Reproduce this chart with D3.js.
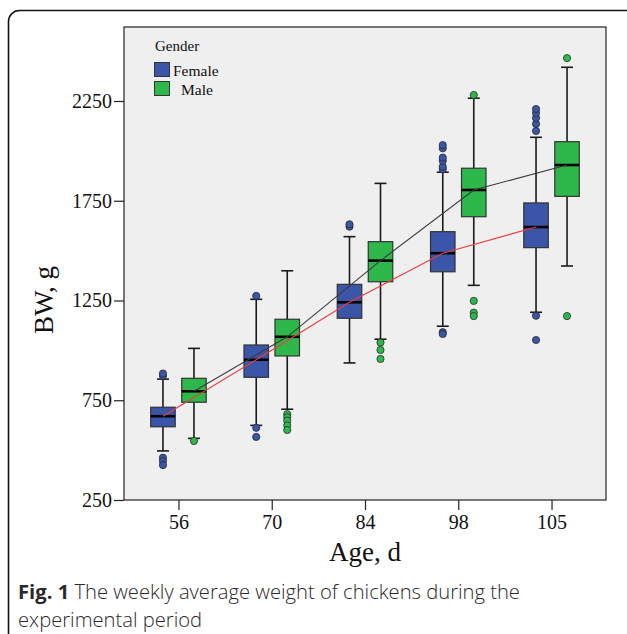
<!DOCTYPE html>
<html><head><meta charset="utf-8">
<script src="https://cdn.jsdelivr.net/npm/d3@7"></script>
<style>body{margin:0;background:#fff}svg{display:block}</style>
</head><body>
<script>
// ---- data ----
const ages = ["56", "70", "84", "98", "105"];
const genders = ["Female", "Male"];
const yTicks = [250, 750, 1250, 1750, 2250];
// [lower whisker, Q1, median, Q3, upper whisker]
const femaleBoxes = [
  [496, 617, 670, 715, 856],
  [624, 865, 953, 1027, 1256],
  [937, 1161, 1241, 1331, 1570],
  [1121, 1394, 1487, 1595, 1893],
  [1191, 1515, 1618, 1739, 2068]
];
const maleBoxes = [
  [559, 740, 795, 860, 1010],
  [705, 972, 1068, 1156, 1399],
  [1056, 1344, 1450, 1545, 1837],
  [1326, 1670, 1804, 1913, 2264],
  [1423, 1772, 1929, 2046, 2419]
];
const femaleOutliers = [
  [872, 884, 462, 445, 425],
  [1273, 612, 566],
  [1620, 1632],
  [1908, 1921, 1950, 1966, 2013, 2029, 1091, 1082],
  [2100, 2135, 2165, 2190, 2210, 1174, 1052]
];
const maleOutliers = [
  [546],
  [680, 665, 648, 624, 601],
  [1039, 1002, 957],
  [2280, 1248, 1189, 1172],
  [2465, 1172]
];
const colors = { Female: "#3b55a8", Male: "#2eb84b" };
const lineColors = { Female: "#f23a3a", Male: "#3a3a3a" };

// ---- layout ----
const W = 627, H = 634;
const plot = { left: 124, right: 606, top: 27, bottom: 500 };
const serif = "Liberation Serif, Times New Roman, serif";

const svg = d3.select("body").append("svg").attr("width", W).attr("height", H);

// outer frame
svg.append("rect").attr("x", 8.5).attr("y", 10.5).attr("width", 700).attr("height", 700)
  .attr("rx", 11).attr("fill", "none").attr("stroke", "#111").attr("stroke-width", 1.6);

const x = d3.scalePoint().domain(ages).range([plot.left, plot.right]).padding(0.584);
const y = d3.scaleLinear().domain([250, 2250]).range([500, 101]);
const off = { Female: -15.5, Male: 15.5 };
const bw = 24.5, capW = 12;

// plot background
svg.append("rect").attr("x", plot.left).attr("y", plot.top)
  .attr("width", plot.right - plot.left).attr("height", plot.bottom - plot.top)
  .attr("fill", "#efefef").attr("stroke", "#222").attr("stroke-width", 1.2);

// axes
const yAxis = d3.axisLeft(y).tickValues(yTicks).tickFormat(d3.format("d")).tickSize(10).tickPadding(2);
const gy = svg.append("g").attr("transform", `translate(${plot.left},0)`).call(yAxis);
gy.select(".domain").remove();
gy.selectAll("text").attr("font-family", serif).attr("font-size", 20).attr("fill", "#111");
gy.selectAll("line").attr("stroke", "#222").attr("stroke-width", 1.2);

const xAxis = d3.axisBottom(x).tickSize(10).tickPadding(5);
const gx = svg.append("g").attr("transform", `translate(0,${plot.bottom})`).call(xAxis);
gx.select(".domain").remove();
gx.selectAll("text").attr("font-family", serif).attr("font-size", 20).attr("fill", "#111");
gx.selectAll("line").attr("stroke", "#222").attr("stroke-width", 1.2);

// axis titles
svg.append("text").attr("x", 365).attr("y", 561).attr("text-anchor", "middle")
  .attr("font-family", serif).attr("font-size", 27).attr("fill", "#111").text("Age, d");
svg.append("text").attr("transform", "translate(53,300) rotate(-90)").attr("text-anchor", "middle")
  .attr("font-family", serif).attr("font-size", 27).attr("fill", "#111").text("BW, g");

const series = { Female: femaleBoxes, Male: maleBoxes };
const outl = { Female: femaleOutliers, Male: maleOutliers };
const line = d3.line().x(d => d[0]).y(d => d[1]);

// boxes
genders.forEach(g => {
  const grp = svg.append("g");
  ages.forEach((a, i) => {
    const [lo, q1, med, q3, hi] = series[g][i];
    const cx = x(a) + off[g];
    grp.append("line").attr("x1", cx).attr("x2", cx).attr("y1", y(hi)).attr("y2", y(q3))
      .attr("stroke", "#1a1a1a").attr("stroke-width", 1.6);
    grp.append("line").attr("x1", cx).attr("x2", cx).attr("y1", y(q1)).attr("y2", y(lo))
      .attr("stroke", "#1a1a1a").attr("stroke-width", 1.6);
    [lo, hi].forEach(v => grp.append("line").attr("x1", cx - capW / 2).attr("x2", cx + capW / 2)
      .attr("y1", y(v)).attr("y2", y(v)).attr("stroke", "#1a1a1a").attr("stroke-width", 1.6));
    grp.append("rect").attr("x", cx - bw / 2).attr("y", y(q3)).attr("width", bw)
      .attr("height", y(q1) - y(q3)).attr("fill", colors[g]).attr("stroke", "#333")
      .attr("stroke-width", 1.2);
    grp.append("line").attr("x1", cx - bw / 2).attr("x2", cx + bw / 2)
      .attr("y1", y(med)).attr("y2", y(med)).attr("stroke", "#000").attr("stroke-width", 2.6);
  });
});
// trend lines through medians
genders.forEach(g => {
  const pts = ages.map((a, i) => [x(a) + off[g], y(series[g][i][2])]);
  svg.append("path").attr("d", line(pts)).attr("fill", "none")
    .attr("stroke", lineColors[g]).attr("stroke-width", 1.1);
});
// outliers
genders.forEach(g => {
  ages.forEach((a, i) => {
    const cx = x(a) + off[g];
    svg.append("g").selectAll("circle").data(outl[g][i]).join("circle")
      .attr("cx", cx).attr("cy", d => y(d)).attr("r", 3.6)
      .attr("fill", colors[g]).attr("stroke", "#2a2a2a").attr("stroke-width", 0.8);
  });
});

// legend
const lg = svg.append("g").attr("font-family", serif).attr("fill", "#111");
lg.append("text").attr("x", 155).attr("y", 51).attr("font-size", 15).text("Gender");
genders.forEach((g, i) => {
  lg.append("rect").attr("x", 154.5).attr("y", 62.5 + i * 19).attr("width", 15).attr("height", 14)
    .attr("fill", colors[g]).attr("stroke", "#333").attr("stroke-width", 1);
  lg.append("text").attr("x", g === "Male" ? 181 : 173).attr("y", 75.5 + i * 19)
    .attr("font-size", 15.5).text(g);
});

// caption
const cap = svg.append("text").attr("x", 18).attr("y", 599)
  .attr("font-family", "Open Sans, sans-serif").attr("font-size", 20.2).attr("fill", "#2a2a2a")
  .attr("font-weight", 300);
cap.append("tspan").attr("font-weight", "bold").text("Fig. 1");
cap.append("tspan").text(" The weekly average weight of chickens during the");
svg.append("text").attr("x", 18).attr("y", 627)
  .attr("font-family", "Open Sans, sans-serif").attr("font-size", 20.2).attr("fill", "#2a2a2a")
  .attr("font-weight", 300).text("experimental period");
</script>
</body></html>
